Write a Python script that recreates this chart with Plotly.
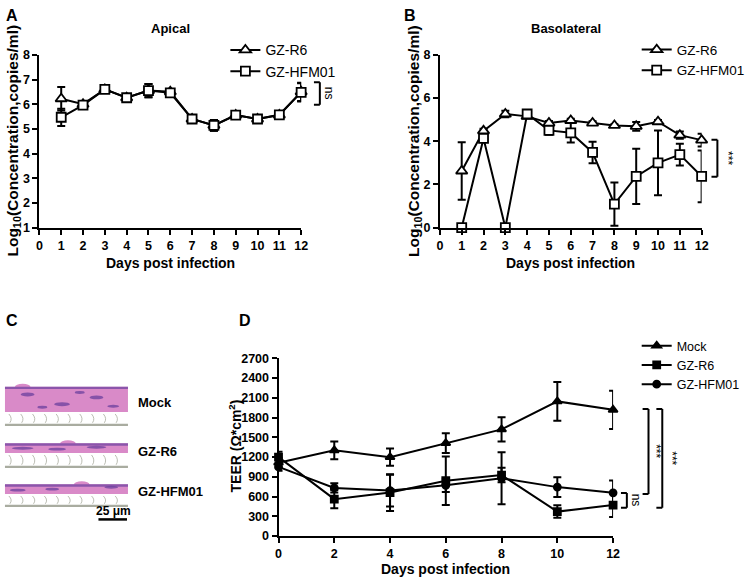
import plotly.graph_objects as go

FONT = "Liberation Sans, Arial, sans-serif"
W, H = 750, 584

# ---------------- data ----------------
days_ab = [1, 2, 3, 4, 5, 6, 7, 8, 9, 10, 11, 12]
# Panel A (Apical)
a_r6 = [6.22, 6.0, 6.6, 6.26, 6.55, 6.5, 5.4, 5.14, 5.56, 5.4, 5.56, 6.5]
a_r6_err = [0.48, 0.06, 0.06, 0.06, 0.27, 0.08, 0.05, 0.22, 0.06, 0.05, 0.06, 0.37]
a_hfm = [5.47, 5.96, 6.6, 6.26, 6.55, 6.46, 5.4, 5.14, 5.56, 5.4, 5.57, 6.48]
a_hfm_err = [0.35, 0.06, 0.06, 0.06, 0.27, 0.08, 0.05, 0.22, 0.06, 0.05, 0.06, 0.37]
# Panel B (Basolateral)
b_r6 = [2.62, 4.48, 5.26, 5.15, 4.84, 4.96, 4.84, 4.73, 4.69, 4.9, 4.28, 4.05]
b_r6_err = [1.33, 0.1, 0.15, 0.08, 0.1, 0.08, 0.08, 0.06, 0.2, 0.08, 0.17, 0.3]
b_hfm = [0.0, 4.13, 0.0, 5.26, 4.5, 4.39, 3.48, 1.09, 2.37, 3.0, 3.38, 2.37]
b_hfm_err = [0.0, 0.12, 0.0, 0.08, 0.2, 0.45, 0.5, 1.0, 1.28, 1.5, 0.5, 1.2]
# Panel D (TEER)
days_d = [0, 2, 4, 6, 8, 10, 12]
d_mock = [1115, 1303, 1199, 1412, 1620, 2046, 1918]
d_mock_err = [70, 135, 130, 150, 185, 295, 290]
d_r6 = [1199, 560, 660, 840, 926, 371, 470]
d_r6_err = [80, 140, 280, 370, 110, 95, 180]
d_hfm = [1050, 730, 690, 770, 877, 743, 657]
d_hfm_err = [60, 70, 240, 100, 395, 150, 185]

ticks_ab_x = list(range(0, 13))
ticks_a_y = list(range(1, 9))
ticks_b_y = [0, 2, 4, 6, 8]
ticks_d_x = [0, 2, 4, 6, 8, 10, 12]
ticks_d_y = list(range(0, 2701, 300))


def fx(p):
    return p / W


def fy(p):
    return 1 - p / H


fig = go.Figure()


def add_series(x, y, err, name, xa, ya, symbol, filled, size, legend, floor=None):
    errm = [min(e, v - floor) for e, v in zip(err, y)] if floor is not None else err
    fig.add_trace(go.Scatter(
        x=x, y=y, name=name, mode="lines+markers",
        xaxis=xa, yaxis=ya, legend=legend,
        line=dict(color="black", width=2),
        marker=dict(symbol=symbol, size=size,
                    color="black" if filled else "white",
                    line=dict(color="black", width=1.8)),
        error_y=dict(type="data", array=err, arrayminus=errm, visible=True,
                     color="black", thickness=2, width=4),
        cliponaxis=False,
    ))


# Panel A
add_series(days_ab, a_r6, a_r6_err, "GZ-R6", "x", "y", "triangle-up", False, 10, "legend")
add_series(days_ab, a_hfm, a_hfm_err, "GZ-HFM01", "x", "y", "square", False, 9, "legend")
# Panel B
add_series(days_ab, b_r6, b_r6_err, "GZ-R6", "x2", "y2", "triangle-up", False, 10, "legend2", 0)
add_series(days_ab, b_hfm, b_hfm_err, "GZ-HFM01", "x2", "y2", "square", False, 9, "legend2", 0)
# Panel D
add_series(days_d, d_mock, d_mock_err, "Mock", "x3", "y3", "triangle-up", True, 8, "legend3")
add_series(days_d, d_r6, d_r6_err, "GZ-R6", "x3", "y3", "square", True, 7, "legend3")
add_series(days_d, d_hfm, d_hfm_err, "GZ-HFM01", "x3", "y3", "circle", True, 7, "legend3")

tickfont = dict(family=FONT, size=12.5, color="black", weight="bold")
axcommon = dict(showgrid=False, zeroline=False, showline=True, linecolor="black",
                linewidth=2, ticks="outside", ticklen=5, tickwidth=2,
                tickcolor="black", tickfont=tickfont, fixedrange=True)

fig.update_layout(
    width=W, height=H, margin=dict(l=0, r=0, t=0, b=0),
    paper_bgcolor="white", plot_bgcolor="white",
    font=dict(family=FONT, color="black"),
    xaxis=dict(domain=[fx(37), fx(303)], range=[0, 12], tickvals=ticks_ab_x,
               anchor="y", **axcommon),
    yaxis=dict(domain=[fy(226), fy(49)], range=[1, 8], tickvals=ticks_a_y,
               anchor="x", **axcommon),
    xaxis2=dict(domain=[fx(444), fx(710)], range=[0, 12], tickvals=ticks_ab_x,
                anchor="y2", **axcommon),
    yaxis2=dict(domain=[fy(226), fy(49)], range=[0, 8], tickvals=ticks_b_y,
                anchor="x2", **axcommon),
    xaxis3=dict(domain=[fx(280), fx(620)], range=[0, 12], tickvals=ticks_d_x,
                anchor="y3", **axcommon),
    yaxis3=dict(domain=[fy(542), fy(360)], range=[0, 2700], tickvals=ticks_d_y,
                anchor="x3", **axcommon),
    legend=dict(x=fx(226), y=fy(28), xanchor="left", yanchor="top",
                bgcolor="rgba(0,0,0,0)", font=dict(family=FONT, size=14),
                itemwidth=30, tracegroupgap=0),
    legend2=dict(x=fx(644), y=fy(28), xanchor="left", yanchor="top",
                 bgcolor="rgba(0,0,0,0)", font=dict(family=FONT, size=13.5),
                 itemwidth=30, tracegroupgap=0),
    legend3=dict(x=fx(644), y=fy(332), xanchor="left", yanchor="top",
                 bgcolor="rgba(0,0,0,0)", font=dict(family=FONT, size=12.5),
                 itemwidth=30, tracegroupgap=0),
)

ann = []


def text(x, y, t, size=13, bold=True, angle=0, xanchor="center"):
    ann.append(dict(x=fx(x), y=fy(y), xref="paper", yref="paper", text=t,
                    showarrow=False, textangle=angle, xanchor=xanchor, yanchor="middle",
                    font=dict(family=FONT, size=size, color="black",
                              weight="bold" if bold else "normal")))


# panel letters
text(9, 9, "A", 16)
text(414, 9, "B", 16)
text(9, 321, "C", 16)
text(246, 321, "D", 16)
# titles
text(170, 22, "Apical", 13)
text(572, 22, "Basolateral", 13)
# axis titles
text(170, 262, "Days post infection", 14)
text(577, 262, "Days post infection", 14)
text(450, 576, "Days post infection", 14)
ytitle = "Log<sub>10</sub>(Concentration,copies/ml)"
text(11, 137, ytitle, 15.5, angle=-90)
text(418, 137, ytitle, 15.5, angle=-90)
text(236, 450, "TEER (Ω*cm<sup>2</sup>)", 14, angle=-90)

shapes = []


def bracket(xv, yref, y0, y1, label, tx):
    for (a, b) in [(y0, y0), (y1, y1)]:
        shapes.append(dict(type="line", xref="paper", yref=yref,
                           x0=fx(xv - 6), x1=fx(xv), y0=a, y1=b,
                           line=dict(color="black", width=2)))
    shapes.append(dict(type="line", xref="paper", yref=yref,
                       x0=fx(xv), x1=fx(xv), y0=y0, y1=y1,
                       line=dict(color="black", width=2)))
    ann.append(dict(x=fx(tx), y=(y0 + y1) / 2, xref="paper", yref=yref, text=label,
                    showarrow=False, textangle=90, xanchor="center", yanchor="middle",
                    font=dict(family=FONT, size=12, color="black")))


bracket(322, "y", 6.89, 5.98, "ns", 331)
bracket(726, "y2", 4.07, 2.35, "***", 737)
bracket(634, "y3", 653, 430, "ns", 643)
bracket(656, "y3", 1929, 638, "***", 664)
bracket(670, "y3", 1929, 430, "***", 679)

# ---------------- panel C: histology sketch ----------------
PINK = "#d98ac8"
PURPLE = "#6a3f9e"
GREY = "#a9aca0"


def rect(x0, y0, x1, y1, color, opacity=1.0):
    shapes.append(dict(type="rect", xref="paper", yref="paper",
                       x0=fx(x0), x1=fx(x1), y0=fy(y1), y1=fy(y0),
                       fillcolor=color, line=dict(width=0), opacity=opacity, layer="above"))


def ell(x0, y0, x1, y1, color, opacity=0.85):
    shapes.append(dict(type="circle", xref="paper", yref="paper",
                       x0=fx(x0), x1=fx(x1), y0=fy(y1), y1=fy(y0),
                       fillcolor=color, line=dict(width=0), opacity=opacity, layer="above"))


def strip(top, bottom, memb, bumpx, nuclei):
    rect(2, top, 127, bottom, PINK)
    ell(bumpx, top - 3, bumpx + 16, top + 4, PINK, 1)
    rect(2, top, 127, top + 2.5, PURPLE, 0.7)
    for (cx, cy, w, h) in nuclei:
        ell(cx - w / 2, cy - h / 2, cx + w / 2, cy + h / 2, PURPLE, 0.75)
    for i in range(10):
        xx = 6 + i * 12
        shapes.append(dict(type="path", xref="paper", yref="paper",
                           path=f"M {fx(xx)},{fy(bottom + 2)} Q {fx(xx + 4)},{fy((bottom + memb) / 2)} {fx(xx + 1)},{fy(memb - 2)}",
                           line=dict(color=GREY, width=0.8), layer="above"))
    rect(2, memb - 1, 127, memb + 1.2, GREY)


strip(389, 415, 428, 12, [(25, 397, 14, 4), (60, 407, 16, 4), (95, 400, 14, 4), (112, 409, 12, 3), (40, 410, 10, 3), (78, 395, 10, 3)])
strip(447, 457, 471, 58, [(20, 452, 22, 3), (55, 453, 18, 3), (95, 451, 20, 3)])
strip(489, 499, 511, 72, [(15, 495, 16, 3), (50, 494, 14, 3), (110, 492, 14, 3)])

text(135, 405, "Mock", 13, xanchor="left")
text(135, 455, "GZ-R6", 13, xanchor="left")
text(135, 496, "GZ-HFM01", 13, xanchor="left")
text(112, 516, "25 μm", 12)
shapes.append(dict(type="line", xref="paper", yref="paper", x0=fx(97), x1=fx(126),
                   y0=fy(525), y1=fy(525), line=dict(color="black", width=2.5)))

fig.update_layout(annotations=ann, shapes=shapes)
fig.write_html("out.html", config={"displayModeBar": False},
               post_script="document.body.style.margin='0';document.body.style.overflow='hidden';")
